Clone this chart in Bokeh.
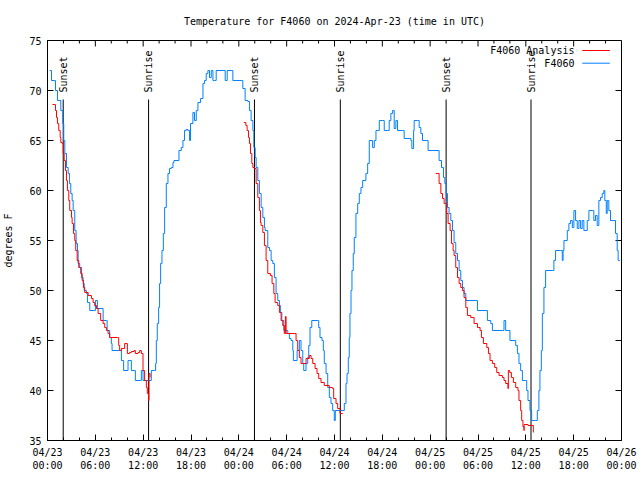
from bokeh.plotting import figure
from bokeh.models import FixedTicker, Range1d, Label
from bokeh.embed import file_html
from bokeh.resources import INLINE
from bokeh.core.properties import value

# ---------------- data (hours since 2024-04-23 00:00 UTC, degrees F) ----------------
obs_t = [0.29, 0.50, 0.91, 1.00, 1.25, 1.67, 1.92, 2.04, 2.17, 2.38, 2.59, 2.75, 2.92, 3.09, 3.22,
         3.42, 3.59, 3.76, 3.84, 4.04, 4.26, 4.47, 4.60, 4.88, 5.01, 5.30, 5.92, 6.01, 6.26, 6.97,
         6.98, 7.39, 7.48, 7.80, 8.01, 8.10, 9.05, 9.27, 9.55, 9.98, 10.10, 10.31, 10.52, 10.86,
         11.02, 11.68, 11.77, 11.98, 12.68, 13.02, 13.44, 13.56, 13.65, 13.77, 13.94, 14.06, 14.19,
         14.36, 14.53, 14.69, 14.90, 15.11, 15.31, 15.53, 15.74, 15.86, 16.37, 16.49, 16.78, 16.99,
         17.19, 17.41, 17.62, 17.82, 17.94, 18.24, 18.44, 18.66, 18.87, 19.20, 19.50, 19.70, 19.91,
         20.12, 20.32, 20.54, 20.75, 20.95, 21.16, 22.13, 22.29, 22.54, 23.13, 23.25, 24.29, 24.50,
         24.79, 25.13, 25.33, 25.54, 25.76, 25.88, 26.05, 26.17, 26.38, 26.58, 26.80, 27.01, 27.21,
         27.30, 27.63, 27.84, 28.05, 28.26, 28.46, 28.67, 28.88, 29.09, 29.21, 29.39, 29.64, 29.93,
         30.14, 30.34, 30.55, 30.77, 30.84, 31.18, 31.31, 31.59, 31.80, 32.02, 32.14, 32.43, 32.64,
         32.77, 32.93, 33.15, 33.90, 34.02, 34.18, 34.43, 34.60, 34.72, 34.94, 35.15, 35.35, 35.56,
         35.77, 35.97, 36.10, 37.03, 37.23, 37.44, 37.57, 37.73, 37.85, 37.94, 38.07, 38.19, 38.35,
         38.48, 38.69, 38.91, 39.11, 39.32, 39.53, 39.94, 40.16, 40.36, 40.78, 40.99, 41.20, 41.41,
         41.62, 42.04, 42.24, 42.66, 42.86, 43.07, 43.29, 43.49, 43.70, 43.91, 44.54, 44.74, 45.58,
         45.70, 45.92, 45.99, 46.42, 46.62, 46.83, 47.04, 47.58, 47.74, 48.99, 49.12, 49.42, 49.67,
         49.84, 50.00, 50.17, 50.37, 50.59, 50.80, 51.00, 51.21, 51.43, 51.63, 51.84, 52.05, 52.25,
         52.47, 53.72, 53.93, 54.97, 55.18, 55.60, 55.81, 57.06, 57.26, 57.47, 57.89, 58.01, 58.52,
         58.73, 58.94, 59.14, 59.35, 59.57, 59.98, 60.11, 60.27, 60.52, 60.73, 61.23, 61.44, 61.64,
         61.77, 61.94, 62.07, 62.27, 62.48, 63.32, 63.52, 63.73, 64.36, 64.57, 64.67, 64.78, 65.20,
         65.40, 65.61, 65.83, 66.03, 66.24, 66.45, 66.66, 66.87, 67.07, 67.28, 67.70, 67.91, 68.33,
         68.53, 68.74, 68.95, 69.16, 69.37, 69.58, 69.78, 69.91, 70.09, 70.21, 70.41, 70.62, 71.04,
         71.25, 71.46, 71.58, 71.79]
obs_v = [72, 71, 71, 70, 69, 68, 66.7, 65, 63.7, 62.3, 61.7, 60.7, 59.7, 59, 58,
         56, 54.7, 54, 52.7, 52.3, 51.3, 50.7, 50, 49.7, 48.8, 48, 48, 49, 48.2, 48,
         47, 47, 46, 45.3, 44.7, 44, 44, 43, 42, 42, 43, 43, 42, 42,
         41, 41, 42, 41, 41, 42, 42, 42.7, 45, 46.7, 48.3, 50.7, 52.7,
         54, 55.7, 58.3, 60.7, 61.7, 62.2, 62.3, 62.8, 63, 63, 64, 64.3, 65,
         66, 66.1, 66, 65, 66.7, 67.8, 67, 68, 68.8, 69.2, 70.7, 71, 71.7,
         72, 71.3, 72, 71, 71, 72, 72, 71, 72, 72, 71, 71, 70.2,
         69, 68.9, 68, 67, 66, 64.3, 63.3, 62.3, 61, 59.7, 58.3, 57.3, 56.3,
         56, 54.3, 54, 53, 52.7, 51.3, 49.7, 49, 48.5, 47.8, 47, 46, 46,
         45.7, 45.2, 45, 44, 43, 43, 44, 45, 44, 42.7, 42, 42.7, 43.3,
         44.5, 46.3, 47, 47, 46.3, 45.3, 45, 44, 42.7, 41.7, 40.3, 39.3, 38.7,
         38, 37, 38, 38, 38.7, 40.7, 41.7, 43.3, 45.3, 47.7, 50, 52, 53.7,
         55.3, 57.7, 58.7, 59.7, 60.3, 61, 61.7, 62.7, 65, 64.3, 65, 66, 66,
         67, 67, 66, 66, 67, 67.7, 68, 66.2, 67, 66, 66, 65.2, 65,
         64.2, 66, 67, 67, 66.3, 65.7, 65, 65, 64, 64, 63, 62.3, 61.3,
         60.7, 59.7, 58.3, 57.7, 57, 56, 54.8, 53.7, 53, 52, 51, 50.3, 49.7,
         49, 49, 48, 48, 47, 46.7, 46, 46, 47, 46, 46, 45, 45,
         44.5, 43.7, 42.7, 42, 41, 41, 40, 39, 38, 37, 37, 38, 40,
         42, 44, 47.7, 50.3, 52, 52, 53, 54, 54, 53, 54, 55, 56,
         56.7, 57, 56.3, 58, 57, 56.2, 57, 56.2, 57, 56, 57, 58, 58,
         57, 57.5, 56.5, 59, 59.3, 59.7, 60, 59, 57.7, 59, 58, 57, 57,
         55.7, 54, 53, 53]

ana1_t = [0.63, 0.91, 1.00, 1.13, 1.25, 1.41, 1.59, 1.67, 1.84, 1.97, 2.09, 2.25, 2.38, 2.50, 2.67,
          2.79, 3.01, 3.09, 3.26, 3.42, 3.54, 3.72, 3.92, 4.17, 4.35, 4.51, 4.67, 5.10, 5.51, 5.72,
          5.92, 6.14, 6.35, 6.67, 6.97, 7.18, 7.39, 7.60, 7.80, 8.77, 8.93, 9.05, 9.27, 9.68, 9.86,
          10.02, 10.31, 10.52, 10.86, 11.02, 11.36, 11.56, 11.77, 11.98, 12.18, 12.40, 12.52, 12.68,
          12.73, 12.86]
ana1_v = [68.6, 68.6, 68, 67.3, 66.7, 66, 65.3, 64.8, 64.7, 63.7, 63, 62, 61, 60, 59,
          58, 57.3, 56.7, 55.7, 55, 54, 53, 52.3, 51.7, 51, 50.3, 49.8, 49.5, 49.2, 48.8,
          48.5, 48.2, 47.7, 47, 46.7, 46.3, 46, 45.7, 45.3, 45.3, 44.5, 44, 44.2, 44.7, 44.7,
          43.7, 43.8, 43.9, 44, 43.7, 43.8, 44, 43.7, 42, 41, 40.3, 39.7, 39,
          41.7, 41.3]
ana2_t = [24.63, 24.88, 25.04, 25.21, 25.33, 25.46, 25.63, 25.76, 25.96, 26.17, 26.38, 26.58, 26.71,
          26.80, 27.01, 27.21, 27.42, 27.63, 27.96, 28.17, 28.39, 28.55, 28.88, 29.09, 29.30, 29.51,
          29.71, 29.84, 29.93, 30.97, 31.18, 31.39, 31.59, 31.80, 32.02, 32.43, 32.84, 33.06, 33.27,
          33.56, 33.81, 34.02, 34.31, 34.72, 35.35, 35.77, 35.90, 36.19, 36.40, 36.69, 37.03]
ana2_v = [66.8, 66.5, 66, 65.3, 64.7, 63.7, 62.7, 62.3, 62.2, 60.7, 59.3, 58, 56.8,
          56.5, 55.8, 54.5, 53, 51.7, 51.5, 50.7, 49.7, 48.8, 48.5, 47.8, 47, 46.5,
          45.7, 47.4, 45.7, 45.7, 45, 44, 43.3, 42.7, 42.7, 43.2, 43.5, 43.2, 42.7,
          42.2, 41.7, 41.2, 40.8, 40.5, 40.3, 40.2, 39.2, 38.7, 38.2, 37.7, 37.7]
ana3_t = [48.71, 48.96, 49.12, 49.34, 49.55, 49.75, 49.96, 50.08, 50.25, 50.50, 50.68, 50.88, 51.00,
          51.21, 51.43, 51.63, 51.84, 52.05, 52.25, 52.47, 52.67, 53.09, 53.51, 53.93, 54.26, 54.43,
          54.68, 55.10, 55.31, 55.51, 55.81, 56.10, 56.35, 56.64, 57.06, 57.26, 57.47, 57.76, 57.81,
          57.98, 58.19, 58.44, 58.73, 59.01, 59.14, 59.35, 59.48, 59.64, 59.77, 59.78, 60.27, 60.90,
          60.94]
ana3_v = [61.7, 61.7, 60.7, 59.7, 59.2, 58.7, 58.7, 57.7, 56.7, 56, 54.7, 54, 53.5,
          52.3, 51.3, 50.7, 50.3, 50, 49.3, 48.3, 47.5, 47.3, 46.7, 46.3, 46, 45.3,
          44.7, 44.3, 43.7, 43, 42.7, 42.3, 41.8, 41.5, 41.3, 41, 40.7, 40.2, 42,
          41.8, 41.3, 40.8, 40.3, 40, 39, 38, 37, 36.4, 36, 36.6, 36.5, 36.5,
          35.8]

sun_t = [1.97, 12.68, 25.96, 36.73, 50.0, 60.65]
sun_labels = ["Sunset", "Sunrise", "Sunset", "Sunrise", "Sunset", "Sunrise"]

x_ticks = [0, 6, 12, 18, 24, 30, 36, 42, 48, 54, 60, 66, 72]
x_tick_labels = ["04/23\n00:00", "04/23\n06:00", "04/23\n12:00", "04/23\n18:00",
                 "04/24\n00:00", "04/24\n06:00", "04/24\n12:00", "04/24\n18:00",
                 "04/25\n00:00", "04/25\n06:00", "04/25\n12:00", "04/25\n18:00",
                 "04/26\n00:00"]
y_ticks = [35, 40, 45, 50, 55, 60, 65, 70, 75]

# ---------------- styling ----------------
FONT = "DejaVu Sans Mono"
FS = "10px"
RED = "#ff0000"
BLUE = "#0080ff"
X0, X1, Y0, Y1 = 0, 72, 35, 75

p = figure(width=640, height=480, output_backend="svg", toolbar_location=None,
           x_range=Range1d(X0, X1), y_range=Range1d(Y0, Y1),
           min_border_left=46, min_border_right=19, min_border_top=40, min_border_bottom=40,
           title="Temperature for F4060 on 2024-Apr-23 (time in UTC)")
p.title.align = "center"
p.title.text_font = FONT
p.title.text_font_size = FS
p.title.text_font_style = "normal"
p.title.text_color = "black"
p.title.standoff = 27
p.grid.visible = False
p.outline_line_color = "black"
p.outline_line_width = 1
p.background_fill_color = "white"
p.border_fill_color = "white"

minor_x = [h for h in range(0, 73, 2) if h % 6 != 0]

xa = p.xaxis[0]
xa.ticker = FixedTicker(ticks=x_ticks, minor_ticks=minor_x)
xa.major_label_overrides = {t: l for t, l in zip(x_ticks, x_tick_labels)}
ya = p.yaxis[0]
ya.ticker = FixedTicker(ticks=y_ticks)
ya.axis_label = "degrees F"
ya.axis_label_standoff = 12

for ax in (xa, ya):
    ax.major_label_text_font = FONT
    ax.major_label_text_font_size = FS
    ax.major_label_text_color = "black"
    ax.axis_label_text_font = FONT
    ax.axis_label_text_font_size = FS
    ax.axis_label_text_font_style = "normal"
    ax.axis_label_text_color = "black"
    ax.major_tick_in = 6
    ax.major_tick_out = 0
    ax.minor_tick_in = 3
    ax.minor_tick_out = 0
    ax.major_label_standoff = 6
    ax.axis_line_color = "black"
    ax.major_tick_line_color = "black"
    ax.minor_tick_line_color = "black"
ya.minor_tick_line_color = None

# mirrored inward ticks on top and right edges (6 px major, 3 px minor)
tick_dy_major = 6 * (Y1 - Y0) / 400
tick_dy_minor = 3 * (Y1 - Y0) / 400
tick_dx_major = 6 * (X1 - X0) / 575
p.segment(x0=x_ticks, y0=[Y1] * len(x_ticks), x1=x_ticks, y1=[Y1 - tick_dy_major] * len(x_ticks),
          line_color="black", line_width=1)
p.segment(x0=minor_x, y0=[Y1] * len(minor_x), x1=minor_x, y1=[Y1 - tick_dy_minor] * len(minor_x),
          line_color="black", line_width=1)
p.segment(x0=[X1] * len(y_ticks), y0=y_ticks, x1=[X1 - tick_dx_major] * len(y_ticks), y1=y_ticks,
          line_color="black", line_width=1)

# sunrise / sunset markers
p.segment(x0=sun_t, y0=[69.1] * len(sun_t), x1=sun_t, y1=[Y0] * len(sun_t),
          line_color="black", line_width=1)
p.text(x=sun_t, y=[69.8] * len(sun_t), text=sun_labels, angle=1.5708,
       text_align="left", text_baseline="middle", text_font=value(FONT),
       text_font_size=FS, text_color="black")

# series
p.step(obs_t, obs_v, mode="after", line_color=BLUE, line_width=1)
for tt, vv in ((ana1_t, ana1_v), (ana2_t, ana2_v), (ana3_t, ana3_v)):
    p.step(tt, vv, mode="after", line_color=RED, line_width=1)

# legend (gnuplot style: text then line sample)
leg_text_x = 66.1
leg_x0, leg_x1 = 67.08, 70.54
leg_rows = [(74.0, "F4060 Analysis", RED), (72.73, "F4060", BLUE)]
for yy, txt, col in leg_rows:
    p.add_layout(Label(x=leg_text_x, y=yy, text=txt, text_align="right",
                       text_baseline="middle", text_font=FONT, text_font_size=FS,
                       text_color="black"))
    p.segment(x0=[leg_x0], y0=[yy], x1=[leg_x1], y1=[yy], line_color=col, line_width=1)

open("out.html", "w").write(file_html(p, INLINE))
